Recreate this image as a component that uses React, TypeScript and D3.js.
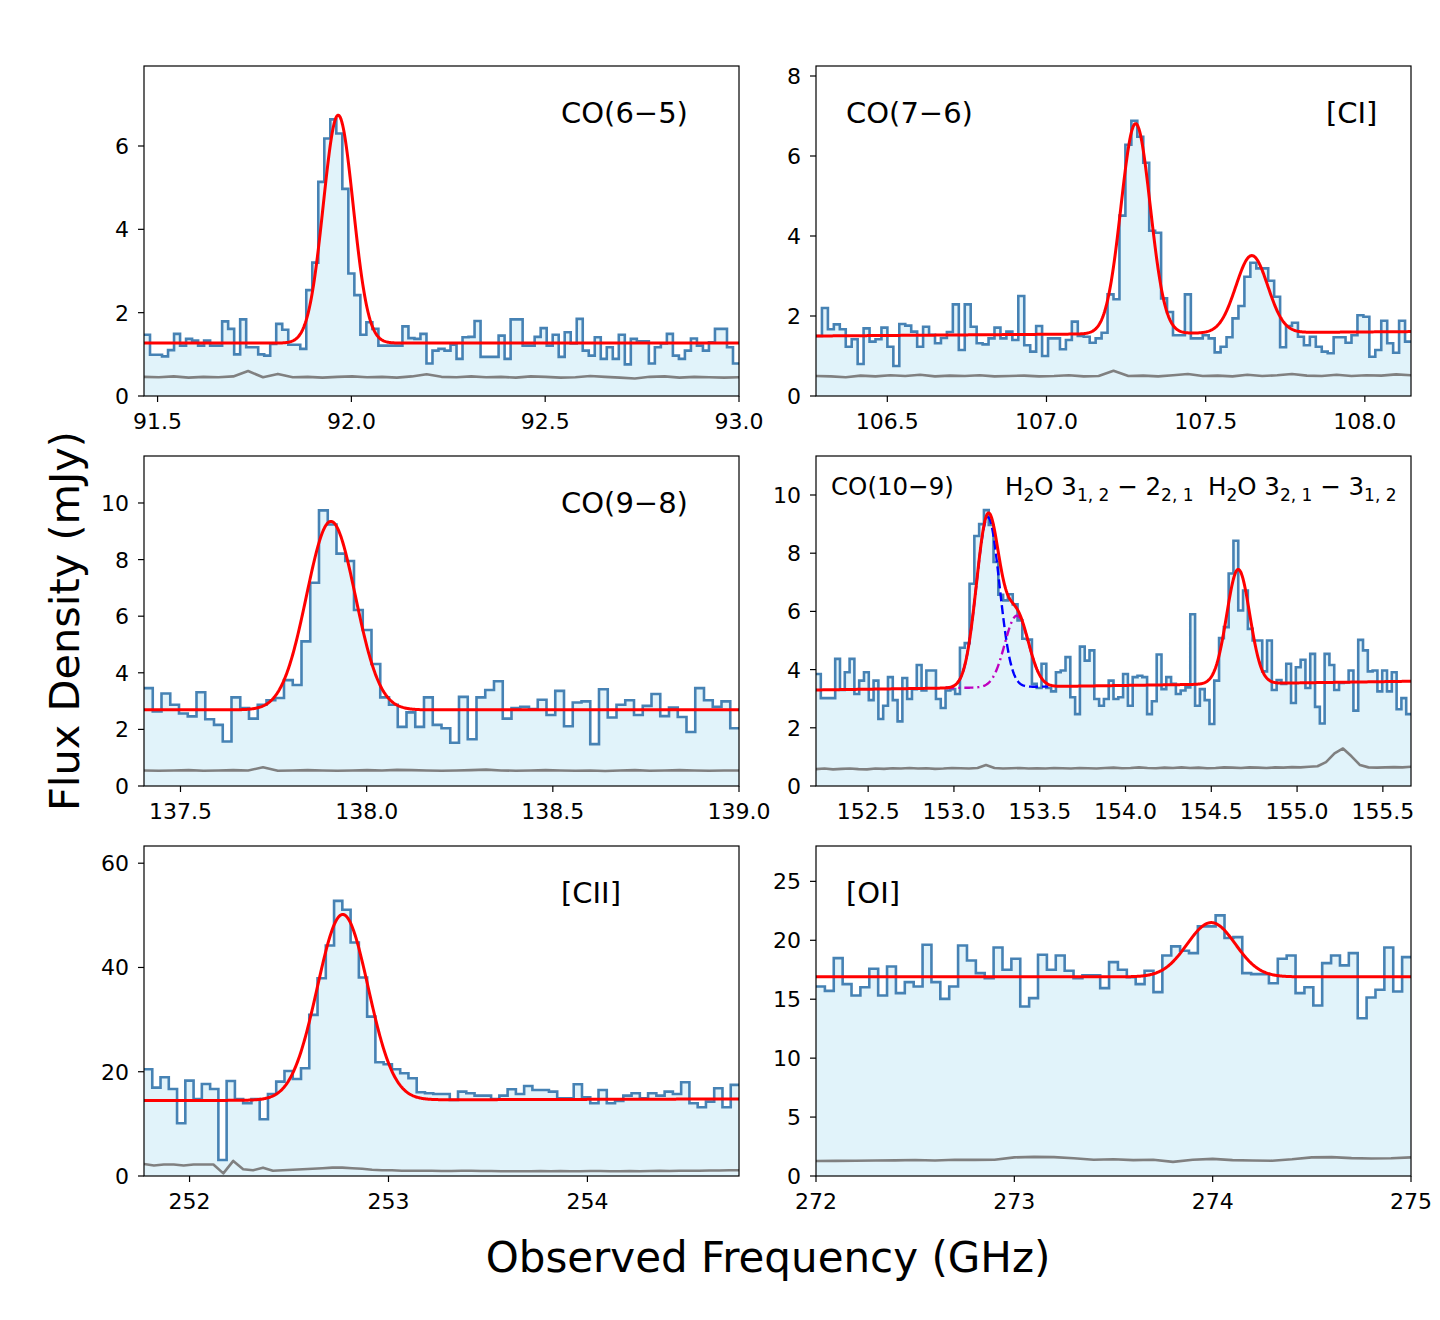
import * as d3 from 'd3';

const FONT = 'DejaVu Sans, Verdana, sans-serif';

// ---- CO(6-5) ----
const co65Range = [91.465, 93.0];
const co65Ticks = [91.5, 92.0, 92.5, 93.0];
const co65Flux = [1.47, 0.99, 0.99, 0.95, 1.1, 1.49, 1.21, 1.37, 1.33, 1.21, 1.33, 1.21, 1.21, 1.79, 1.61, 1.0, 1.84, 1.17, 1.17, 1.0,
  0.97, 1.25, 1.73, 1.59, 1.23, 1.23, 1.13, 2.54, 3.2, 5.14, 6.18, 6.64, 6.3, 4.97, 2.94, 2.42, 1.47, 1.77, 1.61, 1.21,
  1.21, 1.21, 1.21, 1.67, 1.39, 1.37, 1.49, 0.78, 1.09, 1.13, 1.09, 1.23, 0.89, 1.41, 1.42, 1.8, 0.94, 0.94, 0.94, 1.45,
  0.89, 1.84, 1.84, 1.21, 1.21, 1.42, 1.63, 1.21, 1.47, 0.94, 1.53, 1.26, 1.85, 1.09, 0.97, 1.41, 0.89, 1.17, 0.89, 1.47,
  0.76, 1.37, 1.31, 1.31, 0.78, 1.17, 1.26, 1.49, 0.97, 0.89, 1.09, 1.38, 1.21, 1.09, 1.29, 1.61, 1.61, 1.17, 0.78];
const co65Noise = [0.46, 0.45, 0.47, 0.44, 0.46, 0.45, 0.47, 0.6, 0.45, 0.53, 0.45, 0.46, 0.44, 0.46, 0.47, 0.45, 0.46, 0.44, 0.47, 0.52,
  0.46, 0.45, 0.47, 0.45, 0.46, 0.44, 0.47, 0.46, 0.44, 0.45, 0.48, 0.46, 0.44, 0.42, 0.46, 0.47, 0.44, 0.46, 0.45, 0.44, 0.45];
const co65Cont = [1.27, 1.27];
const co65Lines = [[91.966, 5.47, 0.0385]];

// ---- CO(7-6) + [CI] ----
const co76Range = [106.276, 108.145];
const co76Ticks = [106.5, 107.0, 107.5, 108.0];
const co76Flux = [1.5, 2.2, 1.67, 1.79, 1.67, 1.23, 1.42, 0.8, 1.69, 1.36, 1.42, 1.71, 1.23, 0.75, 1.8, 1.76, 1.61, 1.23, 1.73, 1.53,
  1.32, 1.45, 1.6, 2.29, 1.15, 2.29, 1.73, 1.32, 1.29, 1.44, 1.71, 1.44, 1.61, 1.4, 2.5, 1.27, 1.11, 1.75, 1.0, 1.44,
  1.44, 1.17, 1.4, 1.86, 1.5, 1.48, 1.33, 1.44, 1.58, 2.54, 2.42, 4.51, 6.28, 6.88, 6.48, 5.83, 4.13, 4.08, 2.44, 2.1,
  1.52, 1.52, 2.54, 1.44, 1.44, 1.52, 1.44, 1.09, 1.23, 1.47, 1.94, 2.25, 2.98, 3.33, 3.19, 3.19, 2.88, 2.48, 1.22, 1.75,
  1.83, 1.48, 1.27, 1.48, 1.23, 1.11, 1.07, 1.47, 1.47, 1.33, 1.52, 2.02, 1.98, 0.98, 1.15, 1.88, 1.32, 1.08, 1.88, 1.36];
const co76Noise = [0.5, 0.49, 0.47, 0.51, 0.49, 0.52, 0.5, 0.53, 0.49, 0.51, 0.5, 0.52, 0.49, 0.5, 0.51, 0.49, 0.5, 0.52, 0.49, 0.5,
  0.63, 0.5, 0.51, 0.49, 0.52, 0.55, 0.5, 0.51, 0.49, 0.53, 0.5, 0.52, 0.55, 0.51, 0.5, 0.53, 0.5, 0.52, 0.51, 0.54, 0.52];
const co76Cont = [1.5, 1.61];
const co76Lines = [[107.28, 5.25, 0.046], [107.645, 1.93, 0.05]];

// ---- CO(9-8) ----
const co98Range = [137.402, 139.0];
const co98Ticks = [137.5, 138.0, 138.5, 139.0];
const co98Flux = [3.46, 2.63, 3.27, 2.87, 2.56, 2.46, 3.31, 2.36, 2.16, 1.57, 3.13, 2.75, 2.38, 2.87, 3.03, 3.11, 3.74, 3.57, 5.11, 7.18,
  9.74, 9.24, 8.21, 7.95, 6.22, 5.51, 4.31, 3.13, 2.87, 2.09, 2.6, 2.09, 3.13, 2.16, 2.04, 1.53, 3.15, 1.65, 3.13, 3.39,
  3.7, 2.38, 2.75, 2.8, 2.72, 3.05, 2.51, 3.36, 2.11, 2.95, 2.99, 1.48, 3.42, 2.42, 2.87, 3.03, 2.51, 2.83, 3.25, 2.47,
  2.77, 2.44, 1.91, 3.46, 3.03, 2.8, 2.99, 2.04];
const co98Noise = [0.55, 0.54, 0.55, 0.56, 0.54, 0.55, 0.56, 0.55, 0.66, 0.54, 0.55, 0.56, 0.55, 0.54, 0.55, 0.56, 0.55, 0.57, 0.56, 0.55,
  0.54, 0.55, 0.56, 0.58, 0.55, 0.54, 0.55, 0.56, 0.55, 0.54, 0.55, 0.53, 0.55, 0.56, 0.54, 0.55, 0.56, 0.55, 0.54, 0.55, 0.55];
const co98Cont = [2.69, 2.69];
const co98Lines = [[137.904, 6.66, 0.0655]];

// ---- CO(10-9) + two H2O lines ----
const co109Range = [152.196, 155.664];
const co109Ticks = [152.5, 153.0, 153.5, 154.0, 154.5, 155.0, 155.5];
const co109Flux = [3.85, 3.02, 3.02, 3.02, 4.37, 3.3, 3.91, 4.37, 3.16, 3.62, 3.91, 2.95, 3.62, 2.3, 2.76, 3.74, 2.95, 2.22, 3.71, 2.99,
  3.33, 4.16, 3.28, 3.97, 3.97, 2.99, 2.68, 3.28, 3.33, 3.16, 4.75, 4.91, 6.95, 8.59, 9.0, 9.48, 8.97, 7.7, 6.57, 6.38,
  6.59, 6.24, 5.69, 5.06, 5.03, 3.51, 3.37, 4.2, 3.37, 3.25, 3.91, 3.97, 4.43, 3.05, 2.47, 4.79, 4.31, 4.66, 2.99, 2.76,
  2.99, 3.62, 2.99, 3.05, 3.85, 2.76, 3.74, 3.79, 3.74, 2.47, 2.91, 4.52, 3.33, 3.74, 3.51, 3.16, 3.28, 3.39, 5.9, 2.76,
  3.33, 2.95, 2.13, 3.62, 5.08, 5.46, 7.3, 8.43, 6.03, 6.72, 5.4, 5.0, 5.0, 3.94, 5.0, 3.3, 3.64, 3.51, 4.2, 2.85,
  4.08, 4.34, 3.37, 4.54, 2.72, 2.15, 4.54, 4.16, 3.3, 3.54, 3.56, 3.97, 2.59, 5.02, 4.66, 3.94, 3.97, 3.25, 3.97, 3.25,
  3.91, 2.64, 3.02, 2.47];
const co109Noise = [0.58, 0.6, 0.57, 0.59, 0.6, 0.58, 0.57, 0.6, 0.59, 0.61, 0.6, 0.62, 0.6, 0.61, 0.59, 0.6, 0.62, 0.61, 0.6, 0.62,
  0.72, 0.62, 0.6, 0.61, 0.62, 0.6, 0.61, 0.6, 0.62, 0.61, 0.6, 0.62, 0.61, 0.6, 0.62, 0.63, 0.61, 0.62, 0.64, 0.62,
  0.61, 0.63, 0.62, 0.64, 0.62, 0.63, 0.61, 0.62, 0.64, 0.63, 0.62, 0.64, 0.63, 0.62, 0.64, 0.63, 0.65, 0.64, 0.66, 0.68,
  0.82, 1.12, 1.29, 1.02, 0.72, 0.64, 0.63, 0.64, 0.65, 0.64, 0.66];
const co109Cont = [3.3, 3.6];
const co109Lines = [[153.198, 5.85, 0.067], [153.366, 2.45, 0.07], [154.657, 3.93, 0.067]];
// blended pair drawn separately: CO(10-9) dashed, H2O 3(1,2)-2(2,1) dash-dot
const co109Blend = [152.95, 153.55];

// ---- [CII] ----
const ciiRange = [251.771, 254.762];
const ciiTicks = [252, 253, 254];
const ciiFlux = [20.47, 16.95, 18.94, 16.7, 10.11, 18.3, 14.78, 17.66, 16.7, 3.07, 18.23, 14.78, 13.95, 14.78, 10.88, 15.74, 18.11, 20.15, 18.62, 20.67,
  30.9, 37.94, 44.21, 52.78, 51.06, 44.79, 38.07, 30.58, 21.82, 21.43, 20.47, 19.71, 18.75, 16.06, 15.87, 15.74, 15.74, 14.59, 16.19, 15.87,
  15.42, 15.42, 14.78, 15.42, 16.63, 15.74, 17.27, 16.51, 16.51, 16.19, 14.91, 14.91, 17.59, 15.1, 13.95, 16.51, 13.95, 14.4, 15.42, 15.87,
  14.91, 15.87, 15.42, 16.19, 15.74, 17.98, 13.95, 13.18, 14.27, 16.83, 13.18, 17.47];
const ciiNoise = [2.3, 2.0, 2.2, 2.2, 2.0, 2.2, 2.2, 2.2, 0.5, 2.9, 1.3, 1.1, 1.6, 1.0, 1.1, 1.2, 1.3, 1.4, 1.5, 1.6,
  1.6, 1.5, 1.4, 1.2, 1.1, 1.1, 1.0, 1.0, 1.0, 1.0, 0.95, 0.95, 1.0, 1.0, 0.95, 0.95, 0.9, 0.9, 0.9, 0.9,
  0.95, 0.9, 0.95, 0.9, 0.9, 0.95, 0.95, 0.9, 0.9, 0.95, 0.9, 0.95, 1.0, 0.95, 1.0, 1.0, 1.0, 1.05, 1.05, 1.1, 1.1];
const ciiCont = [14.46, 14.78];
const ciiLines = [[252.77, 35.6, 0.128]];

// ---- [OI] ----
const oiRange = [272, 275];
const oiTicks = [272, 273, 274, 275];
const oiFlux = [16.08, 15.71, 18.49, 16.28, 15.32, 16.02, 17.58, 15.32, 17.78, 15.52, 16.45, 16.08, 19.62, 16.45, 15.03, 16.08, 19.56, 18.29, 17.21, 16.79,
  19.39, 17.5, 18.43, 14.38, 15.09, 18.77, 17.5, 18.71, 17.41, 16.79, 17.02, 17.02, 15.94, 18.15, 17.5, 16.87, 16.28, 17.41, 15.6, 18.71,
  19.48, 19.11, 18.91, 21.18, 21.18, 22.11, 20.19, 20.27, 17.21, 17.13, 17.13, 16.36, 18.43, 18.71, 15.52, 16.02, 14.47, 18.06, 18.71, 17.87,
  18.91, 13.39, 15.15, 15.8, 19.39, 15.66, 18.57];
const oiNoise = [1.27, 1.28, 1.3, 1.32, 1.33, 1.36, 1.32, 1.38, 1.37, 1.38, 1.58, 1.62, 1.6, 1.5, 1.38, 1.42, 1.35, 1.38, 1.2, 1.38,
  1.45, 1.35, 1.32, 1.3, 1.42, 1.58, 1.6, 1.52, 1.48, 1.5, 1.58];
const oiCont = [16.9, 16.9];
const oiLines = [[273.993, 4.6, 0.121]];

const PW = 595;
const PH = 330;
const TICK = 6;

type Part = { t: string; sub?: boolean };
type Label = { x: number; y: number; size: number; parts: Part[] };

function model(f: number, range: number[], cont: number[], lines: number[][]) {
  const c = cont[0] + (cont[1] - cont[0]) * (f - range[0]) / (range[1] - range[0]);
  return c + d3.sum(lines, ([mu, amp, sig]) => amp * Math.exp(-0.5 * ((f - mu) / sig) ** 2));
}

// text with subscript runs (mathtext-like)
function LabelText({ l }: { l: Label }) {
  const sub = Math.round(l.size * 0.7);
  const shift = Math.round(l.size * 0.24);
  return (
    <text x={l.x} y={l.y} fontSize={l.size} fontFamily={FONT} fill="#000">
      {l.parts.map((p, i) => {
        const prevSub = i > 0 && !!l.parts[i - 1].sub;
        let dy = 0;
        if (p.sub && !prevSub) dy = shift;
        if (!p.sub && prevSub) dy = -shift;
        return <tspan key={i} dy={dy} fontSize={p.sub ? sub : l.size}>{p.t}</tspan>;
      })}
    </text>
  );
}

interface SpectrumProps {
  id: string; left: number; top: number; range: number[]; yMax: number;
  xTicks: number[]; yTicks: number[]; fmt: string;
  flux: number[]; noise: number[]; cont: number[]; lines: number[][];
  blend?: number[];
}

function Spectrum({ id, left, top, range, yMax, xTicks, yTicks, fmt, flux, noise, cont, lines, blend }: SpectrumProps) {
  const x = d3.scaleLinear().domain(range).range([0, PW]);
  const y = d3.scaleLinear().domain([0, yMax]).range([PH, 0]);
  const chan = (range[1] - range[0]) / flux.length;
  const steps: [number, number][] = flux.map((v, i) => [range[0] + i * chan, v]);
  steps.push([range[1], flux[flux.length - 1]]);

  const stepLine = d3.line<[number, number]>().x(d => x(d[0])).y(d => y(d[1])).curve(d3.curveStepAfter);
  const stepArea = d3.area<[number, number]>().x(d => x(d[0])).y0(y(0)).y1(d => y(d[1])).curve(d3.curveStepAfter);

  const nStep = (range[1] - range[0]) / (noise.length - 1);
  const noisePts: [number, number][] = noise.map((v, i) => [range[0] + i * nStep, v]);
  const plain = d3.line<[number, number]>().x(d => x(d[0])).y(d => y(d[1]));

  const fine = d3.range(0, 801).map(i => range[0] + (range[1] - range[0]) * i / 800);
  const fit: [number, number][] = fine.map(f => [f, model(f, range, cont, lines)]);

  let comp1: [number, number][] = [];
  let comp2: [number, number][] = [];
  if (blend) {
    const bf = d3.range(0, 201).map(i => blend[0] + (blend[1] - blend[0]) * i / 200);
    comp1 = bf.map(f => [f, model(f, range, cont, [lines[0]])]);
    comp2 = bf.map(f => [f, model(f, range, cont, [lines[1]])]);
  }

  const fmtTick = d3.format(fmt);

  return (
    <g transform={`translate(${left},${top})`}>
      <defs>
        <clipPath id={id}><rect x={0} y={0} width={PW} height={PH} /></clipPath>
      </defs>
      <g clipPath={`url(#${id})`}>
        <path d={stepArea(steps) ?? ''} fill="#e1f3fa" />
        <path d={stepLine(steps) ?? ''} fill="none" stroke="#4682b4" strokeWidth={2.6} />
        <path d={plain(noisePts) ?? ''} fill="none" stroke="#808080" strokeWidth={2.6} strokeLinejoin="round" />
        {blend && <path d={plain(comp1) ?? ''} fill="none" stroke="#0000ff" strokeWidth={2.4} strokeDasharray="9,4" />}
        {blend && <path d={plain(comp2) ?? ''} fill="none" stroke="#bf00bf" strokeWidth={2.4} strokeDasharray="9,4,2,4" />}
        <path d={plain(fit) ?? ''} fill="none" stroke="#ff0000" strokeWidth={3} strokeLinejoin="round" />
      </g>
      <rect x={0} y={0} width={PW} height={PH} fill="none" stroke="#000" strokeWidth={1.2} />
      {xTicks.map(t => (
        <g key={t} transform={`translate(${x(t)},${PH})`}>
          <line y2={TICK} stroke="#000" strokeWidth={1.2} />
          <text y={33} textAnchor="middle" fontSize={22} fontFamily={FONT}>{fmtTick(t)}</text>
        </g>
      ))}
      {yTicks.map(t => (
        <g key={t} transform={`translate(0,${y(t)})`}>
          <line x2={-TICK} stroke="#000" strokeWidth={1.2} />
          <text x={-15} dy="0.36em" textAnchor="end" fontSize={22} fontFamily={FONT}>{t}</text>
        </g>
      ))}
    </g>
  );
}

const colX = [144, 816];
const rowY = [66, 456, 846];

const labels: Label[] = [
  { x: 561, y: 123, size: 29, parts: [{ t: 'CO(6\u22125)' }] },
  { x: 846, y: 123, size: 29, parts: [{ t: 'CO(7\u22126)' }] },
  { x: 1326, y: 123, size: 29, parts: [{ t: '[CI]' }] },
  { x: 561, y: 513, size: 29, parts: [{ t: 'CO(9\u22128)' }] },
  { x: 831, y: 495, size: 24.5, parts: [{ t: 'CO(10\u22129)' }] },
  { x: 1005, y: 495, size: 24.5, parts: [{ t: 'H' }, { t: '2', sub: true }, { t: 'O 3' }, { t: '1, 2', sub: true }, { t: ' \u2212 2' }, { t: '2, 1', sub: true }] },
  { x: 1208, y: 495, size: 24.5, parts: [{ t: 'H' }, { t: '2', sub: true }, { t: 'O 3' }, { t: '2, 1', sub: true }, { t: ' \u2212 3' }, { t: '1, 2', sub: true }] },
  { x: 561, y: 903, size: 29, parts: [{ t: '[CII]' }] },
  { x: 846, y: 903, size: 29, parts: [{ t: '[OI]' }] },
];

export default function App() {
  return (
    <svg width={1440} height={1320} style={{ position: 'absolute', left: 0, top: 0, background: '#fff' }}>
      <rect width={1440} height={1320} fill="#fff" />
      <Spectrum id="p1" left={colX[0]} top={rowY[0]} range={co65Range} yMax={7.92} xTicks={co65Ticks} yTicks={[0, 2, 4, 6]} fmt=".1f"
        flux={co65Flux} noise={co65Noise} cont={co65Cont} lines={co65Lines} />
      <Spectrum id="p2" left={colX[1]} top={rowY[0]} range={co76Range} yMax={8.25} xTicks={co76Ticks} yTicks={[0, 2, 4, 6, 8]} fmt=".1f"
        flux={co76Flux} noise={co76Noise} cont={co76Cont} lines={co76Lines} />
      <Spectrum id="p3" left={colX[0]} top={rowY[1]} range={co98Range} yMax={11.66} xTicks={co98Ticks} yTicks={[0, 2, 4, 6, 8, 10]} fmt=".1f"
        flux={co98Flux} noise={co98Noise} cont={co98Cont} lines={co98Lines} />
      <Spectrum id="p4" left={colX[1]} top={rowY[1]} range={co109Range} yMax={11.34} xTicks={co109Ticks} yTicks={[0, 2, 4, 6, 8, 10]} fmt=".1f"
        flux={co109Flux} noise={co109Noise} cont={co109Cont} lines={co109Lines} blend={co109Blend} />
      <Spectrum id="p5" left={colX[0]} top={rowY[2]} range={ciiRange} yMax={63.3} xTicks={ciiTicks} yTicks={[0, 20, 40, 60]} fmt="d"
        flux={ciiFlux} noise={ciiNoise} cont={ciiCont} lines={ciiLines} />
      <Spectrum id="p6" left={colX[1]} top={rowY[2]} range={oiRange} yMax={28} xTicks={oiTicks} yTicks={[0, 5, 10, 15, 20, 25]} fmt="d"
        flux={oiFlux} noise={oiNoise} cont={oiCont} lines={oiLines} />
      {labels.map((l, i) => <LabelText key={i} l={l} />)}
      <text transform="translate(79,621) rotate(-90)" textAnchor="middle" fontSize={41.5} fontFamily={FONT}>Flux Density (mJy)</text>
      <text x={768} y={1272} textAnchor="middle" fontSize={42} fontFamily={FONT}>Observed Frequency (GHz)</text>
    </svg>
  );
}
